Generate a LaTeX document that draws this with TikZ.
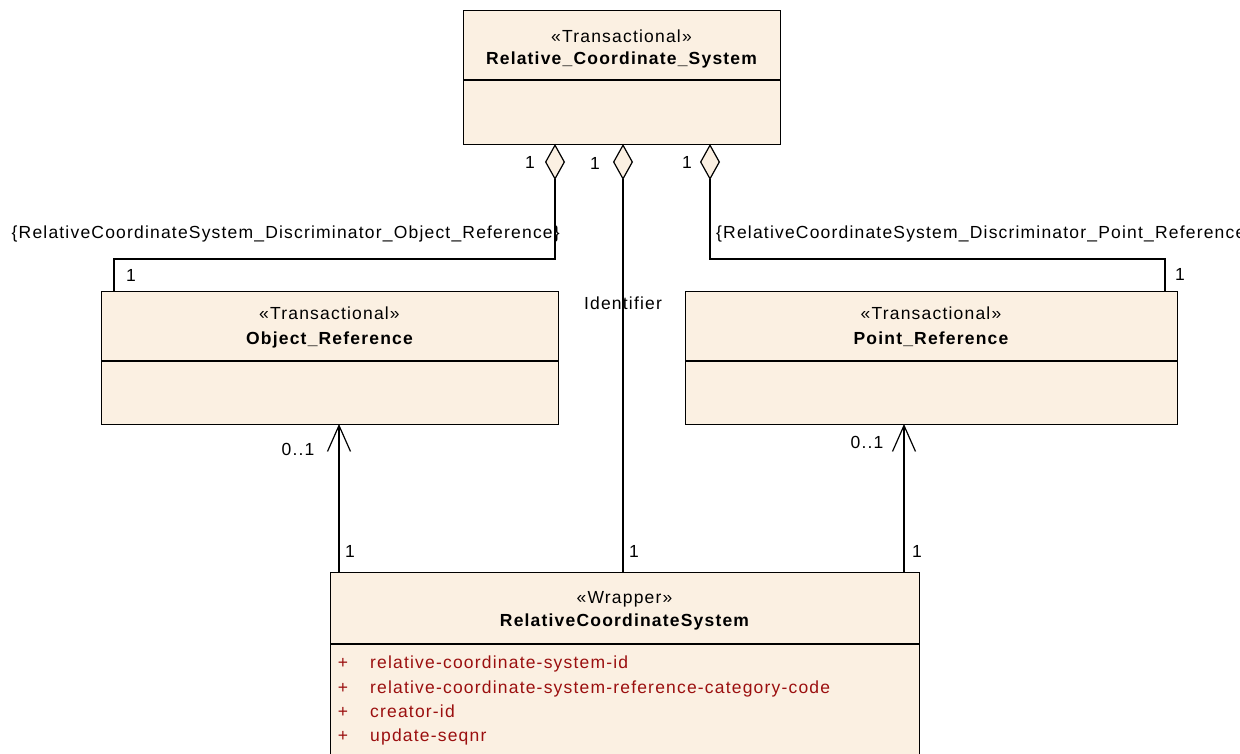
\documentclass[tikz,border=0pt]{standalone}
\usepackage{fontspec}
\setmainfont{Liberation Sans}[LetterSpace=6.8]
\usetikzlibrary{arrows.meta}
\definecolor{boxfill}{RGB}{251,240,226}
\definecolor{attrred}{RGB}{155,15,15}
\tikzset{
  umlbox/.style={draw=black, fill=boxfill, line width=1.3pt, rectangle, inner sep=0pt, anchor=north west},
  divider/.style={line width=1.2pt},
  conn/.style={line width=1.2pt},
  txt/.style={inner sep=0pt, text height=15pt, text depth=1pt, font=\fontsize{17.5}{20}\selectfont},
  nametxt/.style={txt, font=\fontsize{17.5}{20}\selectfont\bfseries},
  attr/.style={txt, text=attrred, anchor=west},
  agg/.style={conn, {Diamond[length=36pt,width=20pt,fill=boxfill,line width=1.2pt]}-},
  nav/.style={conn, -{Straight Barb[length=26pt,width=23pt,line width=1.2pt]}}
}
\begin{document}
\begin{tikzpicture}[x=1pt,y=-1pt]
\useasboundingbox (0,0) rectangle (1240,754);
\clip (0,0) rectangle (1240,754);
\fill[white] (0,0) rectangle (1240,754);

% boxes
\node[umlbox, minimum width=317pt, minimum height=134pt] (rcs) at (463,10) {};
\node[umlbox, minimum width=457pt, minimum height=133pt] (obj) at (101,291) {};
\node[umlbox, minimum width=492pt, minimum height=133pt] (pt) at (685,291) {};
\node[umlbox, minimum width=589pt, minimum height=200pt] (wrap) at (330,572) {};

% dividers
\draw[divider] (rcs.west |- 0,80) -- (rcs.east |- 0,80);
\draw[divider] (obj.west |- 0,361) -- (obj.east |- 0,361);
\draw[divider] (pt.west |- 0,361) -- (pt.east |- 0,361);
\draw[divider] (wrap.west |- 0,644) -- (wrap.east |- 0,644);

% box texts
\node[txt] (rcsst) at (621.5,36) {«Transactional»};
\node[nametxt] (rcsnm) at (621.5,58) {Relative\_Coordinate\_System};
\node[txt] (objst) at (329.5,312) {«Transactional»};
\node[nametxt] (objnm) at (329.5,337) {Object\_Reference};
\node[txt] (ptst) at (931,312) {«Transactional»};
\node[nametxt] (ptnm) at (931,337) {Point\_Reference};
\node[txt] (wrst) at (624.5,596) {«Wrapper»};
\node[nametxt] (wrnm) at (624.5,619) {RelativeCoordinateSystem};

% attributes
\foreach \yy/\t [count=\i] in {661/relative-coordinate-system-id,686/relative-coordinate-system-reference-category-code,710/creator-id,734/update-seqnr}{
  \node[txt, text=attrred] (plus\i) at (343,\yy) {+};
  \node[attr] (at\i) at (370,\yy) {\t};
}

% connector end coordinates
\coordinate (d1) at (555,144);
\coordinate (d2) at (623,144);
\coordinate (d3) at (710,144);
\coordinate (o1) at (114,291);
\coordinate (p1) at (1165,291);
\coordinate (w2) at (623,572);
\coordinate (w1) at (339,572);
\coordinate (w3) at (904,572);
\coordinate (oa) at (339,424);
\coordinate (pa) at (904,424);

% aggregations
\draw[agg] (d1) -- (d1 |- 0,259) -| (o1);
\draw[agg] (d2) -- (w2);
\draw[agg] (d3) -- (d3 |- 0,259) -| (p1);

% navigable associations
\draw[nav] (w1) -- (oa);
\draw[nav] (w3) -- (pa);

% labels
\node[txt] (l1) at (530,162) {1};
\node[txt] (l2) at (595,163) {1};
\node[txt] (l3) at (687,162) {1};
\node[txt] (l4) at (131,274) {1};
\node[txt] (l5) at (1180,273) {1};
\node[txt] (m1) at (298,448) {0..1};
\node[txt] (m2) at (867,441) {0..1};
\node[txt] (l6) at (350,550) {1};
\node[txt] (l7) at (634,550) {1};
\node[txt] (l8) at (917,550) {1};
\node[txt] (ident) at (623,302) {Identifier};
\node[txt, anchor=east] (disc1) at (560,232) {\{RelativeCoordinateSystem\_Discriminator\_Object\_Reference\}};
\node[txt, anchor=west] (disc2) at (716,232) {\{RelativeCoordinateSystem\_Discriminator\_Point\_Reference\}};
\end{tikzpicture}
\end{document}
